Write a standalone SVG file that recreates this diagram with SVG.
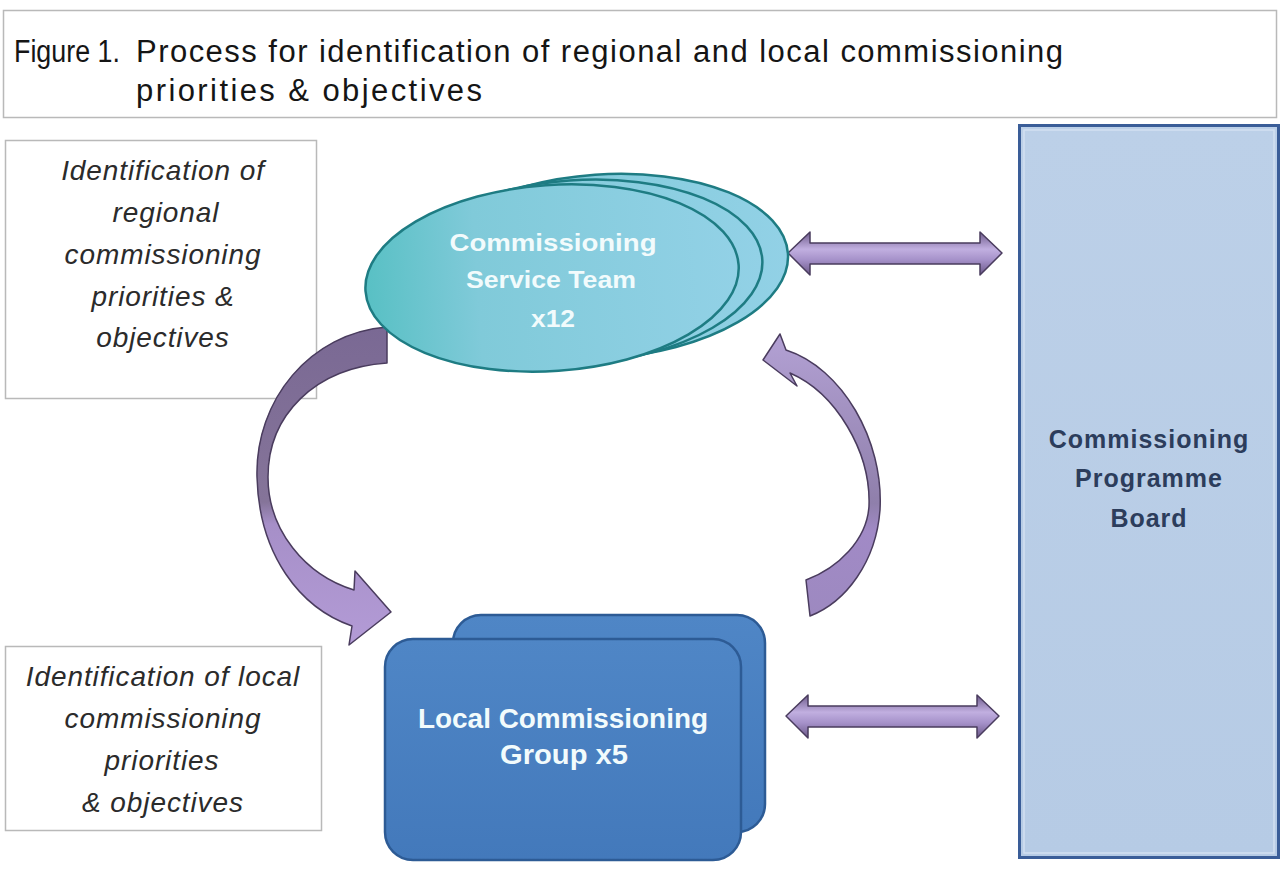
<svg xmlns="http://www.w3.org/2000/svg" width="1282" height="870" viewBox="0 0 1282 870">
  <defs>
    <linearGradient id="tealFill" x1="0" y1="0" x2="1" y2="0">
      <stop offset="0" stop-color="#58c0c4"/>
      <stop offset="0.3" stop-color="#80cad9"/>
      <stop offset="1" stop-color="#92d1e6"/>
    </linearGradient>
    <linearGradient id="blueFill" x1="0" y1="0" x2="0" y2="1">
      <stop offset="0" stop-color="#4f86c6"/>
      <stop offset="1" stop-color="#4379bb"/>
    </linearGradient>
    <linearGradient id="boardFill" x1="0" y1="0" x2="0" y2="1">
      <stop offset="0" stop-color="#bcd0e8"/>
      <stop offset="1" stop-color="#b6cbe5"/>
    </linearGradient>
    <linearGradient id="curveLeft" x1="0" y1="0" x2="0" y2="1">
      <stop offset="0" stop-color="#7a6994"/>
      <stop offset="0.55" stop-color="#857499"/>
      <stop offset="0.62" stop-color="#a68fc8"/>
      <stop offset="1" stop-color="#b39bd6"/>
    </linearGradient>
    <linearGradient id="curveRight" x1="0" y1="0" x2="0" y2="1">
      <stop offset="0" stop-color="#b3a1d4"/>
      <stop offset="0.6" stop-color="#8f7fab"/>
      <stop offset="0.7" stop-color="#a18ac6"/>
      <stop offset="1" stop-color="#9d89c0"/>
    </linearGradient>
    <linearGradient id="barFill" x1="0" y1="0" x2="0" y2="1">
      <stop offset="0" stop-color="#6f5c8c"/>
      <stop offset="0.4" stop-color="#c1afe0"/>
      <stop offset="0.65" stop-color="#a591c9"/>
      <stop offset="1" stop-color="#6b5888"/>
    </linearGradient>
  </defs>

  <style>
    .caption { font-family: "Liberation Sans", Arial, sans-serif; font-size: 31px; fill: #151515; }
    .note { font-family: "Liberation Sans", Arial, sans-serif; font-style: italic; font-size: 28px; letter-spacing: 0.9px; fill: #2b2b2b; text-anchor: middle; }
    .frame { fill: #ffffff; stroke: #b9b9b9; stroke-width: 1.5; }
    .label { font-family: "Liberation Sans", Arial, sans-serif; font-weight: bold; text-anchor: middle; }
    .white { fill: #f2fbfc; }
    .oval { fill: url(#tealFill); stroke: #1e7c83; stroke-width: 2.5; }
    .card { fill: url(#blueFill); stroke: #2d5b95; stroke-width: 2.5; }
    .curve { stroke: #4a3c5e; stroke-width: 1.5; stroke-linejoin: round; }
    .bar { fill: url(#barFill); stroke: #4a3c5e; stroke-width: 1.5; stroke-linejoin: round; }
  </style>

  <rect width="1282" height="870" fill="#ffffff"/>

  <!-- caption -->
  <g id="caption">
    <rect class="frame" x="3.5" y="10.5" width="1273" height="107"/>
    <text class="caption" y="62"><tspan x="14" textLength="106" lengthAdjust="spacingAndGlyphs">Figure 1.</tspan><tspan x="136" textLength="927" lengthAdjust="spacing">Process for identification of regional and local commissioning</tspan></text>
    <text class="caption" x="136" y="101" textLength="346" lengthAdjust="spacing">priorities &amp; objectives</text>
  </g>

  <!-- side notes -->
  <g id="note-regional">
    <rect class="frame" x="5.5" y="140.5" width="311" height="258"/>
    <text class="note" x="163" y="180">Identification of</text>
    <text class="note" x="166" y="222">regional</text>
    <text class="note" x="163" y="264">commissioning</text>
    <text class="note" x="163" y="306">priorities &amp;</text>
    <text class="note" x="163" y="347">objectives</text>
  </g>

  <g id="note-local">
    <rect class="frame" x="5.5" y="646.5" width="316" height="184"/>
    <text class="note" x="163" y="686">Identification of local</text>
    <text class="note" x="163" y="728">commissioning</text>
    <text class="note" x="162" y="770">priorities</text>
    <text class="note" x="163" y="812">&amp; objectives</text>
  </g>

  <!-- connectors -->
  <g id="connectors">
    <!-- regional team down to local group -->
    <path class="curve" fill="url(#curveLeft)" d="M 387 327 C 310 333 255 400 257 477 C 259 555 300 608 352 626 L 349 645 L 391 612 L 355 571 L 354 590 C 305 575 268 530 268 477 C 268 415 315 368 387 363 Z"/>
    <!-- local group back up to regional team -->
    <path class="curve" fill="url(#curveRight)" d="M 763 360 L 780 334 L 786 350 C 842 368 884 440 880 510 C 876 562 846 602 810 616 L 806 580 C 838 568 867 540 869 506 C 871 452 836 393 790 373 L 797 386 Z"/>
    <!-- two-way links with the board -->
    <path class="bar" d="M 788 253 L 810 232 L 810 243 L 980 243 L 980 232 L 1002 253 L 980 275 L 980 264 L 810 264 L 810 275 Z"/>
    <path class="bar" d="M 786 716 L 808 695 L 808 706 L 977 706 L 977 695 L 999 716 L 977 738 L 977 727 L 808 727 L 808 738 Z"/>
  </g>

  <!-- regional commissioning team: stacked ovals -->
  <g id="service-team">
    <g transform="rotate(-4 552 277)">
      <ellipse class="oval" cx="602" cy="270" rx="187" ry="92"/>
      <ellipse class="oval" cx="576" cy="274" rx="187" ry="92"/>
      <ellipse class="oval" cx="552" cy="278" rx="187" ry="93"/>
    </g>
    <text class="label white" x="553" y="251" font-size="24" textLength="207" lengthAdjust="spacingAndGlyphs">Commissioning</text>
    <text class="label white" x="551" y="288" font-size="24" textLength="170" lengthAdjust="spacingAndGlyphs">Service Team</text>
    <text class="label white" x="553" y="327" font-size="24" textLength="44" lengthAdjust="spacingAndGlyphs">x12</text>
  </g>

  <!-- local commissioning group: stacked cards -->
  <g id="local-group">
    <rect class="card" x="453" y="615" width="312" height="217" rx="28"/>
    <rect class="card" x="385" y="639" width="356" height="221" rx="28"/>
    <text class="label white" x="563" y="728" font-size="27" textLength="290" lengthAdjust="spacingAndGlyphs">Local Commissioning</text>
    <text class="label white" x="564" y="764" font-size="27" textLength="128" lengthAdjust="spacingAndGlyphs">Group x5</text>
  </g>

  <!-- programme board -->
  <g id="programme-board">
    <rect x="1019.5" y="125.5" width="259" height="732" fill="url(#boardFill)" stroke="#3a5d98" stroke-width="3"/>
    <rect x="1024" y="130" width="250" height="723" fill="none" stroke="#d2e0f1" stroke-width="1.5"/>
    <text class="label" x="1149" y="448" font-size="25" letter-spacing="1" fill="#2c3d5c">Commissioning</text>
    <text class="label" x="1149" y="487" font-size="25" letter-spacing="1" fill="#2c3d5c">Programme</text>
    <text class="label" x="1149" y="527" font-size="25" letter-spacing="1" fill="#2c3d5c">Board</text>
  </g>
</svg>
